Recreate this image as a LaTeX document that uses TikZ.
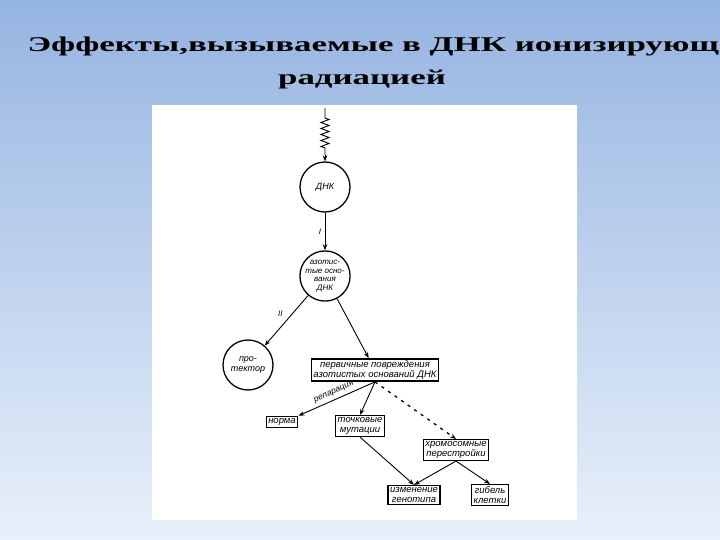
\documentclass[tikz,border=0pt]{standalone}
\usepackage{fontspec}
\setmainfont{Liberation Serif}
\newfontfamily\lab{Liberation Sans}
\usetikzlibrary{decorations.pathmorphing,arrows.meta}
\begin{document}
\begin{tikzpicture}[x=1pt,y=-1pt,
 circ/.style={draw,line width=1.3pt,circle,minimum size=50pt,inner sep=0pt,align=center,font=\lab\itshape\fontsize{9}{9.5}\selectfont},
 bx/.style={draw,line width=1.5pt,inner sep=2pt,align=center,font=\lab\itshape\fontsize{9.5}{9.5}\selectfont},
 ttl/.style={font=\bfseries\fontsize{21}{24}\selectfont},
 ar/.style={-{Stealth[length=6pt]},line width=0.9pt}]
\shade[top color={rgb,255:red,150;green,180;blue,225},bottom color={rgb,255:red,232;green,240;blue,250}] (0,0) rectangle (720,540);
\useasboundingbox (0,0) rectangle (720,540);
\fill[white] (152,105) rectangle (577,520);
\begin{scope}
\clip (0,0) rectangle (720,540);
\node[anchor=west,ttl] (t1) at (24,46) {\scalebox{1.66}[1]{Эффекты,вызываемые в ДНК ионизирующей}};
\end{scope}
\node[ttl] (t2) at (362,80) {\scalebox{1.66}[1]{радиацией}};
\coordinate (z0) at (325,108);
\node[circ] (dnk) at (325,187) {ДНК};
\node[circ,font=\lab\itshape\fontsize{8}{8.5}\selectfont] (az) at (325,276) {азотис-\\тые осно-\\вания\\ДНК};
\node[circ] (pr) at (248,365) {про-\\тектор};
\node[bx] (pb) at (375,370) {первичные повреждения\\азотистых оснований ДНК};
\node[bx] (nm) at (282,422) {норма};
\node[bx] (tm) at (360,426) {точковые\\мутации};
\node[bx] (hp) at (456,450) {хромосомные\\перестройки};
\node[bx] (ig) at (414,495) {изменение\\генотипа};
\node[bx] (gk) at (490,495) {гибель\\клетки};
\draw[line width=0.9pt] (z0) -- (325,118) decorate[decoration={zigzag,segment length=6pt,amplitude=4pt}]{-- (325,148)} -- (325,155);
\draw[ar] (325,155) -- (dnk);
\draw[ar] (dnk) -- node[left,font=\lab\itshape\fontsize{8}{8}\selectfont]{I} (az);
\draw[ar] (az) -- node[above left,font=\lab\itshape\fontsize{8}{8}\selectfont]{II} (pr);
\draw[ar] (az) -- (pb);
\draw[ar] (pb.south) -- node[above,sloped,font=\lab\itshape\fontsize{8.5}{8}\selectfont]{репарация} (nm.north east);
\draw[ar] (pb.south) -- (tm.north);
\draw[ar,dash pattern=on 3pt off 5pt,line width=1.3pt] (pb.south) -- (hp.north);
\draw[ar] (tm.south) -- (ig.north);
\draw[ar] (hp.south) -- (ig.north);
\draw[ar] (hp.south) -- (gk.north);
\end{tikzpicture}
\end{document}
